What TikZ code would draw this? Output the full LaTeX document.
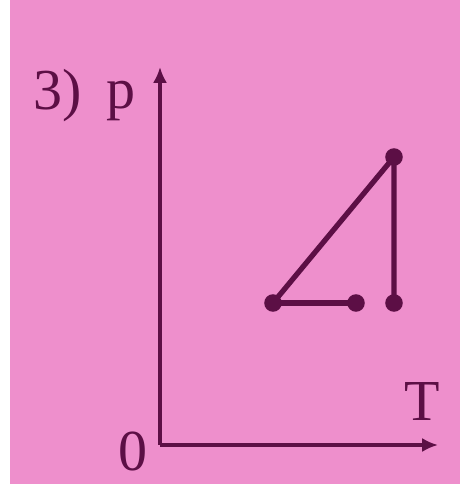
\documentclass[tikz,border=0pt]{standalone}
\usepackage{fontspec}
\setmainfont{Liberation Serif}
\usetikzlibrary{arrows.meta,positioning}
\definecolor{bgpink}{HTML}{EE8FCC}
\definecolor{ink}{HTML}{5C0F45}

\begin{document}
\begin{tikzpicture}[
  axis/.style={draw=ink, line width=2.4pt, -{Latex[length=9pt,width=8pt]}},
  path/.style={draw=ink, line width=3pt},
  dot/.style={circle, fill=ink, inner sep=0pt, minimum size=10pt},
  lbl/.style={text=ink, inner sep=0pt, font=\fontsize{33}{40}\selectfont}
]
\fill[white] (0,0) rectangle (9.2,9.68);
\fill[bgpink] (0.2,0) rectangle (9.2,9.68);
\useasboundingbox (0,0) rectangle (9.2,9.68);
\coordinate (o) at (3.2,0.78);
\coordinate (ptop) at (3.2,8.34);
\coordinate (tend) at (8.76,0.78);
\node[dot] (a) at (5.46,3.62) {};
\node[dot] (b) at (7.12,3.62) {};
\node[dot] (c) at (7.88,3.62) {};
\node[dot] (d) at (7.88,6.54) {};
\draw[axis] (o) -- (ptop);
\draw[axis] (o) -- (tend);
\draw[path] (a.center) -- (b.center);
\draw[path] (a.center) -- (d.center) -- (c.center);
\node[lbl] (num) at (1.16,7.76) {3)};
\node[lbl] (plbl) at (2.42,7.66) {p};
\node[lbl] (tlbl) at (8.44,1.64) {T};
\node[lbl] (zero) at (2.66,0.64) {0};
\end{tikzpicture}
\end{document}
